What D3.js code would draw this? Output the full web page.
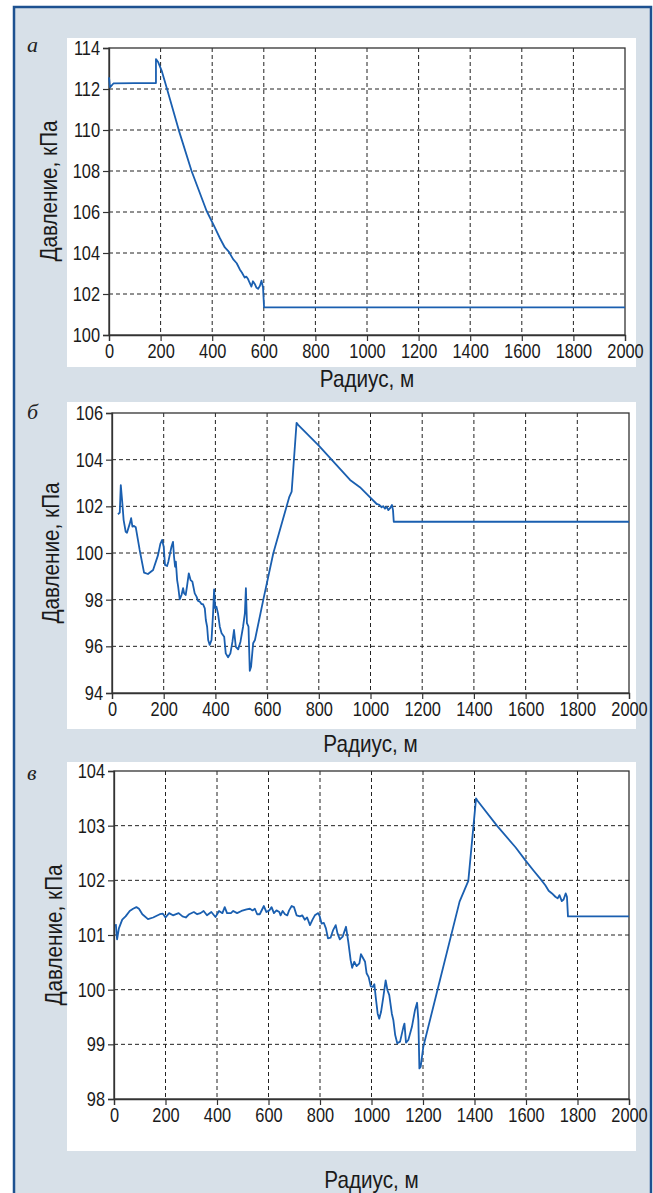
<!DOCTYPE html>
<html><head><meta charset="utf-8">
<script src="https://cdn.jsdelivr.net/npm/d3@7"></script>
<style>
html,body{margin:0;padding:0;background:#fff;}
svg{display:block;}
</style></head>
<body>
<svg id="chart" width="653" height="1193"></svg>
<script>
// ---- data ----
const xTicks = [0,200,400,600,800,1000,1200,1400,1600,1800,2000];
const yTicksA = [100,102,104,106,108,110,112,114];
const yTicksB = [94,96,98,100,102,104,106];
const yTicksC = [98,99,100,101,102,103,104];
const panelLabels = ["а","б","в"];
const xTitle = "Радиус, м";
const yTitle = "Давление, кПа";

const radiusA   = [0,4,17,100,182,182,191,204,223,271,320,378,410,430,449,465,481,495,507,515,526,532,539,545,552,558,565,571,578,585,591,597,601,2000];
const pressureA = [112.57,112.08,112.27,112.29,112.29,113.46,113.3,112.9,112.08,109.97,108.0,106.06,105.25,104.72,104.27,104.05,103.7,103.5,103.2,103.05,102.8,102.85,102.73,102.55,102.36,102.62,102.49,102.32,102.25,102.4,102.65,102.32,101.35,101.35];

const radiusB   = [23,30,34,39,45,53,58,69,74,79,85,92,107,124,139,159,178,187,194,200,205,213,218,230,236,240,244,247,252,256,262,269,275,279,285,290,297,304,311,320,327,333,340,346,352,359,363,368,372,378,385,391,395,399,404,410,417,424,434,440,449,458,466,472,479,488,497,507,514,518,522,528,533,538,546,553,585,624,686,695,714,720,800,921,959,985,1024,1028,1034,1043,1049,1056,1063,1069,1075,1083,1087,1090,2000];
const pressureB = [101.66,101.73,102.91,102.27,101.41,100.91,100.87,101.27,101.49,101.13,101.16,101.1,100.13,99.16,99.1,99.27,99.91,100.39,100.56,100.27,99.49,99.44,99.63,100.27,100.48,99.84,99.41,99.63,98.84,98.56,98.01,98.2,98.49,98.27,98.2,98.56,99.13,98.84,98.77,98.27,98.13,97.95,97.91,97.81,97.81,97.63,97.13,96.84,96.27,96.06,96.27,97.41,98.44,97.63,97.7,97.41,96.84,96.56,96.41,95.7,95.53,95.7,96.2,96.7,95.98,95.87,96.2,96.84,97.41,98.49,96.99,96.84,94.95,95.13,96.13,96.27,97.98,99.99,102.41,102.63,105.58,105.49,104.6,103.13,102.82,102.53,102.1,102.09,102.06,101.96,102.01,101.9,101.98,101.84,101.91,102.06,101.84,101.34,101.34];

const radiusC   = [7,12,19,32,45,61,74,87,97,110,132,152,178,190,200,214,229,251,266,279,292,310,323,336,348,361,378,394,408,421,430,439,454,463,478,495,515,528,538,547,556,566,582,592,603,612,621,631,642,647,655,664,673,680,690,699,709,722,731,741,750,761,771,780,786,793,799,806,815,823,831,841,851,861,868,877,888,901,910,919,925,933,942,953,959,968,975,981,989,997,1005,1011,1017,1024,1030,1037,1046,1055,1062,1069,1079,1085,1092,1100,1111,1124,1128,1134,1143,1157,1169,1177,1182,1186,1191,1201,1256,1342,1376,1406,1411,1487,1560,1597,1629,1655,1675,1688,1701,1714,1723,1730,1739,1746,1754,1759,1763,2000];
const pressureC = [101.2,100.92,101.12,101.28,101.34,101.44,101.48,101.51,101.48,101.38,101.29,101.32,101.38,101.39,101.32,101.4,101.36,101.4,101.34,101.32,101.38,101.42,101.38,101.4,101.44,101.36,101.42,101.33,101.44,101.4,101.51,101.4,101.4,101.44,101.4,101.44,101.47,101.48,101.45,101.48,101.38,101.38,101.53,101.42,101.45,101.51,101.4,101.45,101.42,101.36,101.44,101.38,101.36,101.45,101.53,101.51,101.36,101.34,101.36,101.28,101.32,101.18,101.28,101.36,101.38,101.4,101.34,101.21,101.22,101.12,100.94,100.95,101.09,101.18,101.03,100.92,100.97,101.15,100.87,100.54,100.4,100.51,100.43,100.48,100.65,100.57,100.51,100.3,100.23,100.06,100.05,100.1,99.84,99.56,99.47,99.59,99.87,100.17,99.99,99.9,99.56,99.44,99.17,99.02,99.05,99.32,99.38,99.03,99.08,99.32,99.63,99.76,99.44,98.56,98.59,98.95,99.99,101.61,101.99,103.5,103.46,103.0,102.6,102.37,102.18,102.03,101.91,101.81,101.76,101.7,101.67,101.73,101.62,101.65,101.76,101.7,101.34,101.34];

// ---- layout ----
const svg = d3.select("#chart");
svg.append("rect").attr("x",14).attr("y",7).attr("width",637).attr("height",1200)
  .attr("fill","#d7e0e8").attr("stroke","#1d5190").attr("stroke-width",2.5);

const panels = [
  {label:panelLabels[0], xs:radiusA, ys:pressureA, yTicks:yTicksA, white:[67,38,569,329], box:[109,48,625,335], labelPos:[27,52], yTitlePos:[57,191], xTitleY:387},
  {label:panelLabels[1], xs:radiusB, ys:pressureB, yTicks:yTicksB, white:[67,402,569,327], box:[112,413,629,693], labelPos:[27,419], yTitlePos:[59,553], xTitleY:752},
  {label:panelLabels[2], xs:radiusC, ys:pressureC, yTicks:yTicksC, white:[67,762,569,389], box:[114,771,629,1099], labelPos:[27,780], yTitlePos:[62,935], xTitleY:1188}
];

const font = '"Liberation Sans", Arial, sans-serif';
const tickScale = 0.82, titleScale = 0.9;

panels.forEach(p => {
  const [wx,wy,ww,wh] = p.white;
  svg.append("rect").attr("x",wx).attr("y",wy).attr("width",ww).attr("height",wh).attr("fill","#fff");
  const [x0,y0,x1,y1] = p.box;
  const x = d3.scaleLinear().domain([0,2000]).range([x0,x1]);
  const y = d3.scaleLinear().domain(d3.extent(p.yTicks)).range([y1,y0]);
  const g = svg.append("g");
  // grid
  g.selectAll(".vg").data(xTicks.slice(1,-1)).join("line")
    .attr("x1",d=>x(d)).attr("x2",d=>x(d)).attr("y1",y0).attr("y2",y1)
    .attr("stroke","#222").attr("stroke-width",1).attr("stroke-dasharray","4,3");
  g.selectAll(".hg").data(p.yTicks.slice(1,-1)).join("line")
    .attr("x1",x0).attr("x2",x1).attr("y1",d=>y(d)).attr("y2",d=>y(d))
    .attr("stroke","#222").attr("stroke-width",1).attr("stroke-dasharray","4,3");
  // box
  g.append("rect").attr("x",x0).attr("y",y0).attr("width",x1-x0).attr("height",y1-y0)
    .attr("fill","none").attr("stroke","#333").attr("stroke-width",1.3);
  // axes
  const xa = g.append("g").attr("transform",`translate(0,${y1})`)
    .call(d3.axisBottom(x).tickValues(xTicks).tickSize(6).tickPadding(3).tickFormat(d3.format("d")));
  const ya = g.append("g").attr("transform",`translate(${x0},0)`)
    .call(d3.axisLeft(y).tickValues(p.yTicks).tickSize(6).tickPadding(3).tickFormat(d3.format("d")));
  [xa,ya].forEach(a => {
    a.select(".domain").attr("stroke","#333").attr("stroke-width",1.3);
    a.selectAll(".tick line").attr("stroke","#333").attr("stroke-width",1.2);
    a.selectAll(".tick text").attr("font-family",font).attr("font-size",20).attr("fill","#1a1a1a")
      .attr("transform",`scale(${tickScale},1)`);
  });
  ya.selectAll(".tick text").attr("x", -9/tickScale);
  // line
  const pts = p.xs.map((v,i)=>[v,p.ys[i]]);
  g.append("path").datum(pts)
    .attr("d", d3.line().x(d=>x(d[0])).y(d=>y(d[1])))
    .attr("fill","none").attr("stroke","#1a5fb0").attr("stroke-width",1.8).attr("stroke-linejoin","round");
  // labels
  svg.append("text").attr("x",p.labelPos[0]).attr("y",p.labelPos[1])
    .attr("font-family","Liberation Serif, serif").attr("font-style","italic").attr("font-size",22).attr("fill","#222")
    .text(p.label);
  svg.append("text").attr("transform",`translate(${p.yTitlePos[0]},${p.yTitlePos[1]}) rotate(-90) scale(${titleScale},1)`)
    .attr("text-anchor","middle").attr("font-family",font).attr("font-size",23).attr("fill","#1a1a1a")
    .text(yTitle);
  svg.append("text").attr("transform",`translate(${(x0+x1)/2},${p.xTitleY}) scale(${titleScale},1)`)
    .attr("text-anchor","middle").attr("font-family",font).attr("font-size",23).attr("fill","#1a1a1a")
    .text(xTitle);
});
</script>
</body></html>
